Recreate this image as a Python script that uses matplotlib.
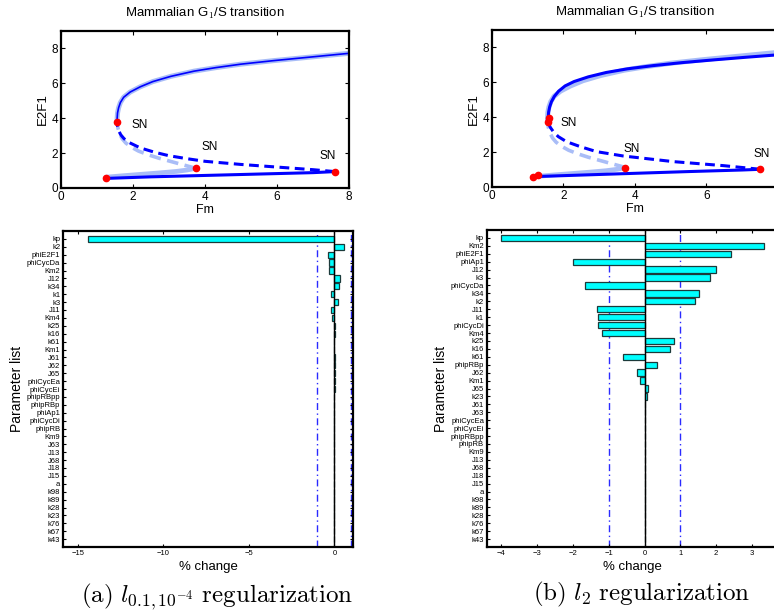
import numpy as np
import matplotlib
matplotlib.use("Agg")
from matplotlib import pyplot as plt

plt.rcParams['font.family'] = ['Liberation Sans', 'DejaVu Sans']
plt.rcParams['mathtext.fontset'] = 'cm'

# bifurcation curves (Fm, E2F1)
# nominal model (light blue), same in both panels
nom_low_x = [1.25, 1.7, 2.2, 2.7, 3.2, 3.5, 3.74]
nom_low_y = [0.62, 0.70, 0.78, 0.86, 0.95, 1.03, 1.13]
nom_mid_x = [3.74, 3.55, 3.3, 3.0, 2.7, 2.4, 2.15, 1.95, 1.8, 1.7, 1.63, 1.58, 1.56]
nom_mid_y = [1.13, 1.24, 1.38, 1.55, 1.72, 1.92, 2.12, 2.35, 2.58, 2.82, 3.10, 3.45, 3.81]
nom_up_x = [1.56, 1.56, 1.57, 1.60, 1.65, 1.74, 1.92, 2.2, 2.55, 3.05, 3.7, 4.3, 5.0, 5.9, 6.9, 8.0]
nom_up_y = [3.81, 4.00, 4.30, 4.60, 4.90, 5.20, 5.50, 5.80, 6.10, 6.40, 6.70, 6.90, 7.10, 7.30, 7.50, 7.72]

# fitted model, panel (a)
a_low_x = [1.25, 2.5, 4.0, 5.5, 7.0, 7.61]
a_low_y = [0.55, 0.64, 0.72, 0.80, 0.88, 0.94]
a_mid_x = [7.61, 7.0, 6.0, 5.0, 4.0, 3.5, 3.0, 2.6, 2.2, 1.9, 1.75, 1.66, 1.6, 1.57, 1.56]
a_mid_y = [0.94, 1.05, 1.20, 1.35, 1.53, 1.68, 1.85, 2.05, 2.30, 2.60, 2.83, 3.05, 3.30, 3.55, 3.81]
a_up_x = [1.56, 1.56, 1.57, 1.60, 1.65, 1.74, 1.92, 2.2, 2.55, 3.05, 3.7, 4.3, 5.0, 5.9, 6.9, 8.0]
a_up_y = [3.81, 4.00, 4.30, 4.60, 4.90, 5.20, 5.50, 5.80, 6.10, 6.40, 6.70, 6.90, 7.10, 7.30, 7.50, 7.72]
a_pts_x = [1.25, 1.56, 3.74, 7.61]
a_pts_y = [0.56, 3.81, 1.13, 0.94]
a_sn_x = [2.19, 4.14, 7.42]
a_sn_y = [3.6, 2.37, 1.86]

# fitted model, panel (b)
b_low_x = [1.16, 2.5, 4.0, 5.5, 7.0, 7.51]
b_low_y = [0.61, 0.70, 0.80, 0.90, 0.99, 1.03]
b_mid_x = [7.51, 6.47, 5.07, 3.68, 2.93, 2.47, 2.09, 1.86, 1.72, 1.64, 1.60, 1.58]
b_mid_y = [1.03, 1.24, 1.47, 1.79, 2.04, 2.33, 2.61, 2.90, 3.19, 3.42, 3.60, 3.72]
b_up_x = [1.58, 1.58, 1.59, 1.62, 1.67, 1.75, 1.87, 2.05, 2.3, 2.7, 3.2, 3.8, 4.5, 5.3, 6.2, 7.1, 8.0]
b_up_y = [3.72, 4.00, 4.30, 4.60, 4.90, 5.20, 5.50, 5.80, 6.05, 6.32, 6.57, 6.78, 6.96, 7.13, 7.29, 7.44, 7.58]
b_pts_x = [1.16, 1.28, 1.58, 1.60, 3.72, 7.51]
b_pts_y = [0.61, 0.70, 3.72, 3.95, 1.12, 1.03]
b_sn_x = [2.14, 3.91, 7.54]
b_sn_y = [3.67, 2.19, 1.91]

# parameter changes (%)
params_a = ['kp', 'k2', 'phiE2F1', 'phiCycDa', 'Km2', 'J12', 'k34', 'k1', 'k3', 'J11',
            'Km4', 'k25', 'k16', 'k61', 'Km1', 'J61', 'J62', 'J65', 'phiCycEa', 'phiCycEi',
            'phipRBpp', 'phipRBp', 'phiAp1', 'phiCycDi', 'phipRB', 'Km9', 'J63', 'J13', 'J68',
            'J18', 'J15', 'a', 'k98', 'k89', 'k28', 'k23', 'k76', 'k67', 'k43']
change_a = [-14.43, 0.59, -0.39, -0.31, -0.31, 0.33, 0.27, -0.19, 0.24, -0.18,
            -0.12, 0.06, 0.05, -0.05, -0.03, 0.02, 0.02, 0.01, 0.01, 0.01,
            0.0, 0.0, 0.0, 0.0, 0.0, 0.0, 0.0, 0.0, 0.0,
            0.0, 0.0, 0.0, 0.0, 0.0, 0.0, 0.0, 0.0, 0.0, 0.0]

params_b = ['kp', 'Km2', 'phiE2F1', 'phiAp1', 'J12', 'k3', 'phiCycDa', 'k34', 'k2', 'J11',
            'k1', 'phiCycDi', 'Km4', 'k25', 'k16', 'k61', 'phipRBp', 'J62', 'Km1', 'J65',
            'k23', 'J61', 'J63', 'phiCycEa', 'phiCycEi', 'phipRBpp', 'phipRB', 'Km9', 'J13',
            'J68', 'J18', 'J15', 'a', 'k98', 'k89', 'k28', 'k76', 'k67', 'k43']
change_b = [-4.0, 3.35, 2.41, -2.0, 2.0, 1.82, -1.66, 1.52, 1.42, -1.34,
            -1.31, -1.29, -1.2, 0.82, 0.71, -0.59, 0.35, -0.21, -0.13, 0.09,
            0.08, 0.02, 0.01, 0.0, 0.0, 0.0, 0.0, 0.0, 0.0,
            0.0, 0.0, 0.0, 0.0, 0.0, 0.0, 0.0, 0.0, 0.0, 0.0]

light = '#a9bdf7'
dark = '#0000ff'
dash = (0, (3.2, 1.8))

W, H = 774.0, 616.0
fig = plt.figure(figsize=(W / 100, H / 100), dpi=100)


def px_axes(x0, x1, top, bottom):
    return fig.add_axes([x0 / W, 1 - bottom / H, (x1 - x0) / W, (bottom - top) / H])


def matlab_style(ax, fs):
    ax.tick_params(direction='in', top=True, right=True, length=3, width=0.8, labelsize=fs, pad=2)
    for s in ax.spines.values():
        s.set_linewidth(1.6)


def bif_panel(ax, low, mid, up, pts, sn, up_lw):
    ax.plot(nom_low_x, nom_low_y, color=light, lw=3.4, solid_capstyle='round')
    ax.plot(nom_mid_x, nom_mid_y, color=light, lw=2.6, linestyle=dash)
    ax.plot(nom_up_x, nom_up_y, color=light, lw=3.6)
    ax.plot(low[0], low[1], color=dark, lw=2.2)
    ax.plot(mid[0], mid[1], color=dark, lw=2.2, linestyle=dash)
    ax.plot(up[0], up[1], color=dark, lw=up_lw)
    ax.plot(pts[0], pts[1], 'o', color='red', ms=4.5, mec='red')
    for x, y in zip(sn[0], sn[1]):
        ax.text(x, y, 'SN', fontsize=8.5, ha='center', va='center')
    ax.set_xlim(0, 8)
    ax.set_ylim(0, 9)
    ax.set_xticks([0, 2, 4, 6, 8])
    ax.set_yticks([0, 2, 4, 6, 8])
    matlab_style(ax, 8.5)
    ax.set_title('Mammalian G$_1$/S transition', fontsize=9.5, pad=10)
    ax.set_xlabel('Fm', fontsize=9, labelpad=1)
    ax.set_ylabel('E2F1', fontsize=9.5, labelpad=2)


def bar_panel(ax, params, change, xlim, xticks, lines):
    pos = np.arange(1, len(params) + 1)
    ax.barh(pos, change, height=0.8, color='#00ffff', edgecolor='#1c3a3a', linewidth=0.9, zorder=2)
    ax.axvline(0, color='black', lw=1.0, zorder=3)
    for x in lines:
        ax.axvline(x, color='#2a2aff', lw=1.0, linestyle=(0, (5, 2.5, 1, 2.5)), zorder=1)
    ax.set_ylim(40, 0)
    ax.set_xlim(*xlim)
    ax.set_yticks(pos)
    ax.set_yticklabels(params)
    ax.set_xticks(xticks)
    matlab_style(ax, 5.5)
    ax.tick_params(length=2)
    ax.set_xlabel('% change', fontsize=9.5, labelpad=3)
    ax.set_ylabel('Parameter list', fontsize=10, labelpad=2)


ax1 = px_axes(61, 349, 31, 188)
bif_panel(ax1, (a_low_x, a_low_y), (a_mid_x, a_mid_y), (a_up_x, a_up_y),
          (a_pts_x, a_pts_y), (a_sn_x, a_sn_y), 1.2)

ax2 = px_axes(491.7, 778, 30, 187.3)
bif_panel(ax2, (b_low_x, b_low_y), (b_mid_x, b_mid_y), (b_up_x, b_up_y),
          (b_pts_x, b_pts_y), (b_sn_x, b_sn_y), 2.2)

ax3 = px_axes(63, 353, 231, 547)
bar_panel(ax3, params_a, change_a, (-15.88, 1.09), [-15, -10, -5, 0], [-1, 1])

ax4 = px_axes(486.7, 778, 230, 547)
bar_panel(ax4, params_b, change_b, (-4.41, 3.73), [-4, -3, -2, -1, 0, 1, 2, 3], [-1, 1])

fig.text(217 / W, 1 - 597 / H, r'$\mathrm{(a)}\ l_{0.1,10^{-4}}\ \mathrm{regularization}$',
         fontsize=18, ha='center', va='center')
fig.text(642 / W, 1 - 594 / H, r'$\mathrm{(b)}\ l_{2}\ \mathrm{regularization}$',
         fontsize=18, ha='center', va='center')

fig.savefig('out.png', dpi=100)
